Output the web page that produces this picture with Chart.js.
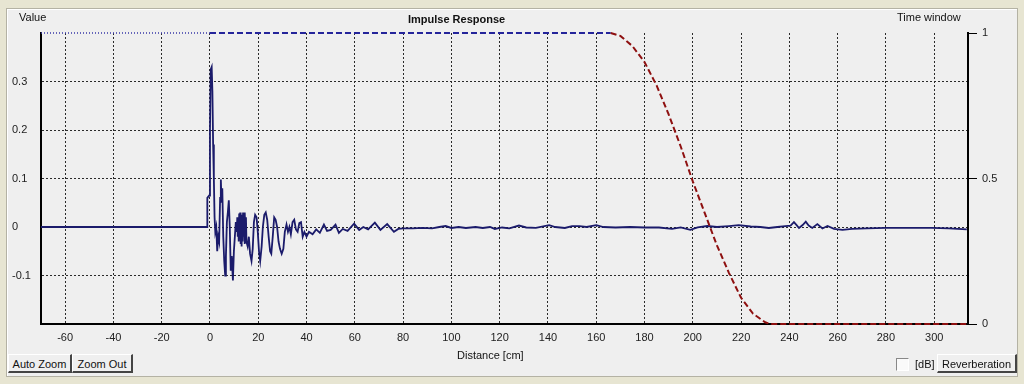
<!DOCTYPE html>
<html>
<head>
<meta charset="utf-8">
<script src="https://cdn.jsdelivr.net/npm/chart.js@4/dist/chart.umd.min.js"></script>
<style>
  html, body { margin:0; padding:0; }
  body { width:1024px; height:384px; background:#e7e5d2; position:relative; overflow:hidden;
         font-family:"Liberation Sans", Arial, sans-serif; font-size:11px; color:#111; }
  #panel { position:absolute; left:6px; top:8px; width:1010px; height:367px; background:#efefef;
           border:1px solid #b4b2a4; box-shadow: inset 1px 1px 0 #fff; }
  #cv { position:absolute; left:0; top:0; }
  .lbl { position:absolute; white-space:nowrap; z-index:2; }
  .btn { position:absolute; z-index:2; background:#efefef; text-align:center; line-height:19px; height:19px;
         border-top:1px solid #fff; border-left:1px solid #fff; border-right:2px solid #444; border-bottom:2px solid #444;
         box-sizing:border-box; }
  .chk { position:absolute; z-index:2; width:11px; height:11px; background:#fafafa;
         border-top:1px solid #888; border-left:1px solid #888; border-right:1px solid #fff; border-bottom:1px solid #fff; }
</style>
</head>
<body>
<div id="panel"></div>
<canvas id="cv" width="1024" height="384"></canvas>
<div class="lbl" style="left:19px;top:11px;">Value</div>
<div class="lbl" style="left:408px;top:13px;font-weight:bold;">Impulse Response</div>
<div class="lbl" style="left:897px;top:11px;">Time window</div>
<div class="lbl" style="left:457px;top:349px;">Distance [cm]</div>
<div class="btn" style="left:8px;top:354px;width:64px;">Auto Zoom</div>
<div class="btn" style="left:72px;top:354px;width:61px;">Zoom Out</div>
<div class="chk" style="left:896px;top:358px;"></div>
<div class="lbl" style="left:915px;top:358px;">[dB]</div>
<div class="btn" style="left:937px;top:354px;width:80px;">Reverberation</div>
<script>
// ---- data ----
const xTicks = [-60,-40,-20,0,20,40,60,80,100,120,140,160,180,200,220,240,260,280,300];
const yTicks = [-0.1,0,0.1,0.2,0.3];
const yTickLabels = ['-0.1','0','0.1','0.2','0.3'];
const y2Ticks = [0,0.5,1];
const y2TickLabels = ['0','0.5','1'];

// impulse response: distance [cm]
const impX = [
  -70,-1.2,-1.1,-0.3,0,0.3,0.7,1.0,1.3,1.6,
  1.9,2.2,2.6,3.0,3.4,3.8,4.2,4.5,4.8,5.1,
  5.5,5.9,6.3,6.6,7.0,7.4,7.8,8.2,8.6,9.0,
  9.5,9.9,10.3,10.7,
  11.1,11.3,11.5,11.7,11.9,12.1,12.3,12.5,12.7,12.9,
  13.1,13.3,13.5,13.7,13.9,14.1,14.3,14.5,14.7,14.9,15.1,
  15.6,16.1,16.6,17.2,17.7,
  18.2,18.7,19.3,19.8,20.3,20.8,21.4,21.9,22.5,23.1,
  23.7,24.3,24.9,25.4,26.0,26.6,27.2,27.8,28.4,29.0,
  29.7,30.4,31.0,31.7,32.3,32.9,33.5,34.2,34.9,35.6,
  36.3,37.0,37.7,38.4,39.1,40,41,42.5,44,45.5,
  47.2,48.5,50,52,53.4,55,57,59.7,61.8,63.5,
  65.5,68.3,70.6,73.4,76.2,78,80,84,88,92,
  95,97.6,100,103,106,110,113,116,118,121,
  124,128,131,135,140.5,143,147,150,153,156,
  160,163,168,174,180,186,191.4,195,199,202,
  206,210,215,219,224,228,231.5,235,238.4,240.5,
  241.9,243,244,245.5,246.8,248,249.5,251.6,253.7,255.8,
  258.5,262,266,272,280,290,299,306,313.5
];
// impulse response: value
const impY = [
  0,0,0.06,0.065,0.2,0.325,0.33,0.28,0.17,0.1,
  0.02,-0.01,0.0,-0.05,-0.02,-0.03,0.06,0.098,0.05,0.08,
  -0.02,-0.07,-0.10,-0.06,0.01,0.03,0.055,0.0,-0.09,-0.06,
  -0.11,-0.05,-0.02,0.01,
  -0.01,0.02,-0.02,0.015,-0.03,0.028,-0.02,0.03,-0.035,0.02,
  -0.04,0.025,-0.03,0.03,-0.02,0.025,-0.035,0.03,-0.02,0.02,-0.03,
  -0.04,-0.02,-0.055,-0.07,-0.045,
  0.01,0.025,0.02,-0.01,-0.05,-0.07,-0.04,0.0,0.025,0.03,
  0.015,-0.02,-0.05,-0.055,-0.02,0.02,0.015,0.0,-0.03,-0.045,
  -0.055,-0.045,-0.01,0.005,-0.01,0.0,-0.015,0.01,0.015,-0.005,
  -0.01,0.008,0.01,-0.02,-0.01,-0.02,-0.01,-0.015,-0.005,-0.012,
  0.005,-0.008,-0.006,0.005,-0.012,-0.004,-0.008,0.007,-0.006,0.0,
  -0.005,0.009,-0.006,0.006,-0.01,-0.004,-0.003,-0.003,-0.002,-0.003,
  0.0,0.002,-0.002,0.0,-0.002,0.0,-0.002,0.0,-0.004,-0.001,
  -0.003,0.003,-0.001,-0.002,0.004,0.0,-0.002,0.002,0.002,0.0,
  0.004,0.0,-0.001,0.0,-0.001,-0.001,-0.004,-0.001,-0.006,-0.001,
  0.002,0.0,0.002,0.004,0.001,0.0,-0.002,0.0,0.002,0.003,
  0.010,0.004,-0.002,0.004,0.011,0.003,-0.002,0.006,-0.003,0.002,
  -0.004,-0.006,-0.004,-0.003,-0.002,-0.002,-0.002,-0.003,-0.005
];

// time window (right axis)
const winPreX = [-70, 0];
const winPreY = [1, 1];
const winFlatX = [0, 166];
const winFlatY = [1, 1];
const winFallX = [166,170,175,180,185,190,195,200,205,210,215,220,225,230,232,314];
const winFallY = [1,0.99,0.955,0.9,0.82,0.72,0.61,0.49,0.38,0.27,0.175,0.09,0.035,0.006,0,0];

const pts = (xs, ys) => xs.map((x, i) => ({x, y: ys[i]}));
const FONT = {family: '"Liberation Sans", Arial, sans-serif', size: 11};

new Chart(document.getElementById('cv'), {
  type: 'scatter',
  data: {
    datasets: [
      {data: pts(winFallX, winFallY), yAxisID: 'y2', showLine: true, pointRadius: 0, clip: false,
       borderColor: '#8e1010', borderWidth: 2, borderDash: [6, 3], order: 0},
      {data: pts(winFlatX, winFlatY), yAxisID: 'y2', showLine: true, pointRadius: 0, clip: false,
       borderColor: '#24249a', borderWidth: 2, borderDash: [6, 3], order: 1},
      {data: pts(winPreX, winPreY), yAxisID: 'y2', showLine: true, pointRadius: 0, clip: false,
       borderColor: '#3a3aa8', borderWidth: 1.5, borderDash: [1, 2], order: 2},
      {data: pts(impX, impY), yAxisID: 'y', showLine: true, pointRadius: 0,
       borderColor: '#1b1b6b', borderWidth: 1.8, tension: 0, order: 3}
    ]
  },
  options: {
    responsive: false,
    animation: false,
    events: [],
    layout: {padding: {left: 12, top: 33, right: 0, bottom: 0}},
    plugins: {legend: {display: false}, tooltip: {enabled: false}, title: {display: false}},
    scales: {
      x: {
        type: 'linear', position: 'bottom', min: -70, max: 314,
        afterBuildTicks: s => { s.ticks = xTicks.map(v => ({value: v})); },
        afterFit: s => { s.height = 60; },
        grid: {color: '#2a2a2a', lineWidth: 1, drawTicks: false},
        border: {display: true, color: '#000', width: 2, dash: [2, 2]},
        ticks: {padding: 7, font: FONT, color: '#222', maxRotation: 0, autoSkip: false,
                callback: v => String(v)}
      },
      y: {
        type: 'linear', position: 'left', min: -0.2, max: 0.4,
        afterBuildTicks: s => { s.ticks = yTicks.map(v => ({value: v})); },
        afterFit: s => { s.width = 29; },
        grid: {color: '#2a2a2a', lineWidth: 1, drawTicks: false},
        border: {display: true, color: '#000', width: 2, dash: [2, 2]},
        ticks: {crossAlign: 'far', font: FONT, color: '#222', padding: 0,
                callback: (v, i) => yTickLabels[i]}
      },
      y2: {
        type: 'linear', position: 'right', min: 0, max: 1,
        afterBuildTicks: s => { s.ticks = y2Ticks.map(v => ({value: v})); },
        afterFit: s => { s.width = 56; },
        grid: {drawOnChartArea: false, drawTicks: true, tickLength: 9, tickColor: '#000', tickWidth: 1},
        border: {display: true, color: '#000', width: 2},
        ticks: {crossAlign: 'near', font: FONT, color: '#222', padding: 5,
                callback: (v, i) => y2TickLabels[i]}
      }
    }
  }
});
</script>
</body>
</html>
